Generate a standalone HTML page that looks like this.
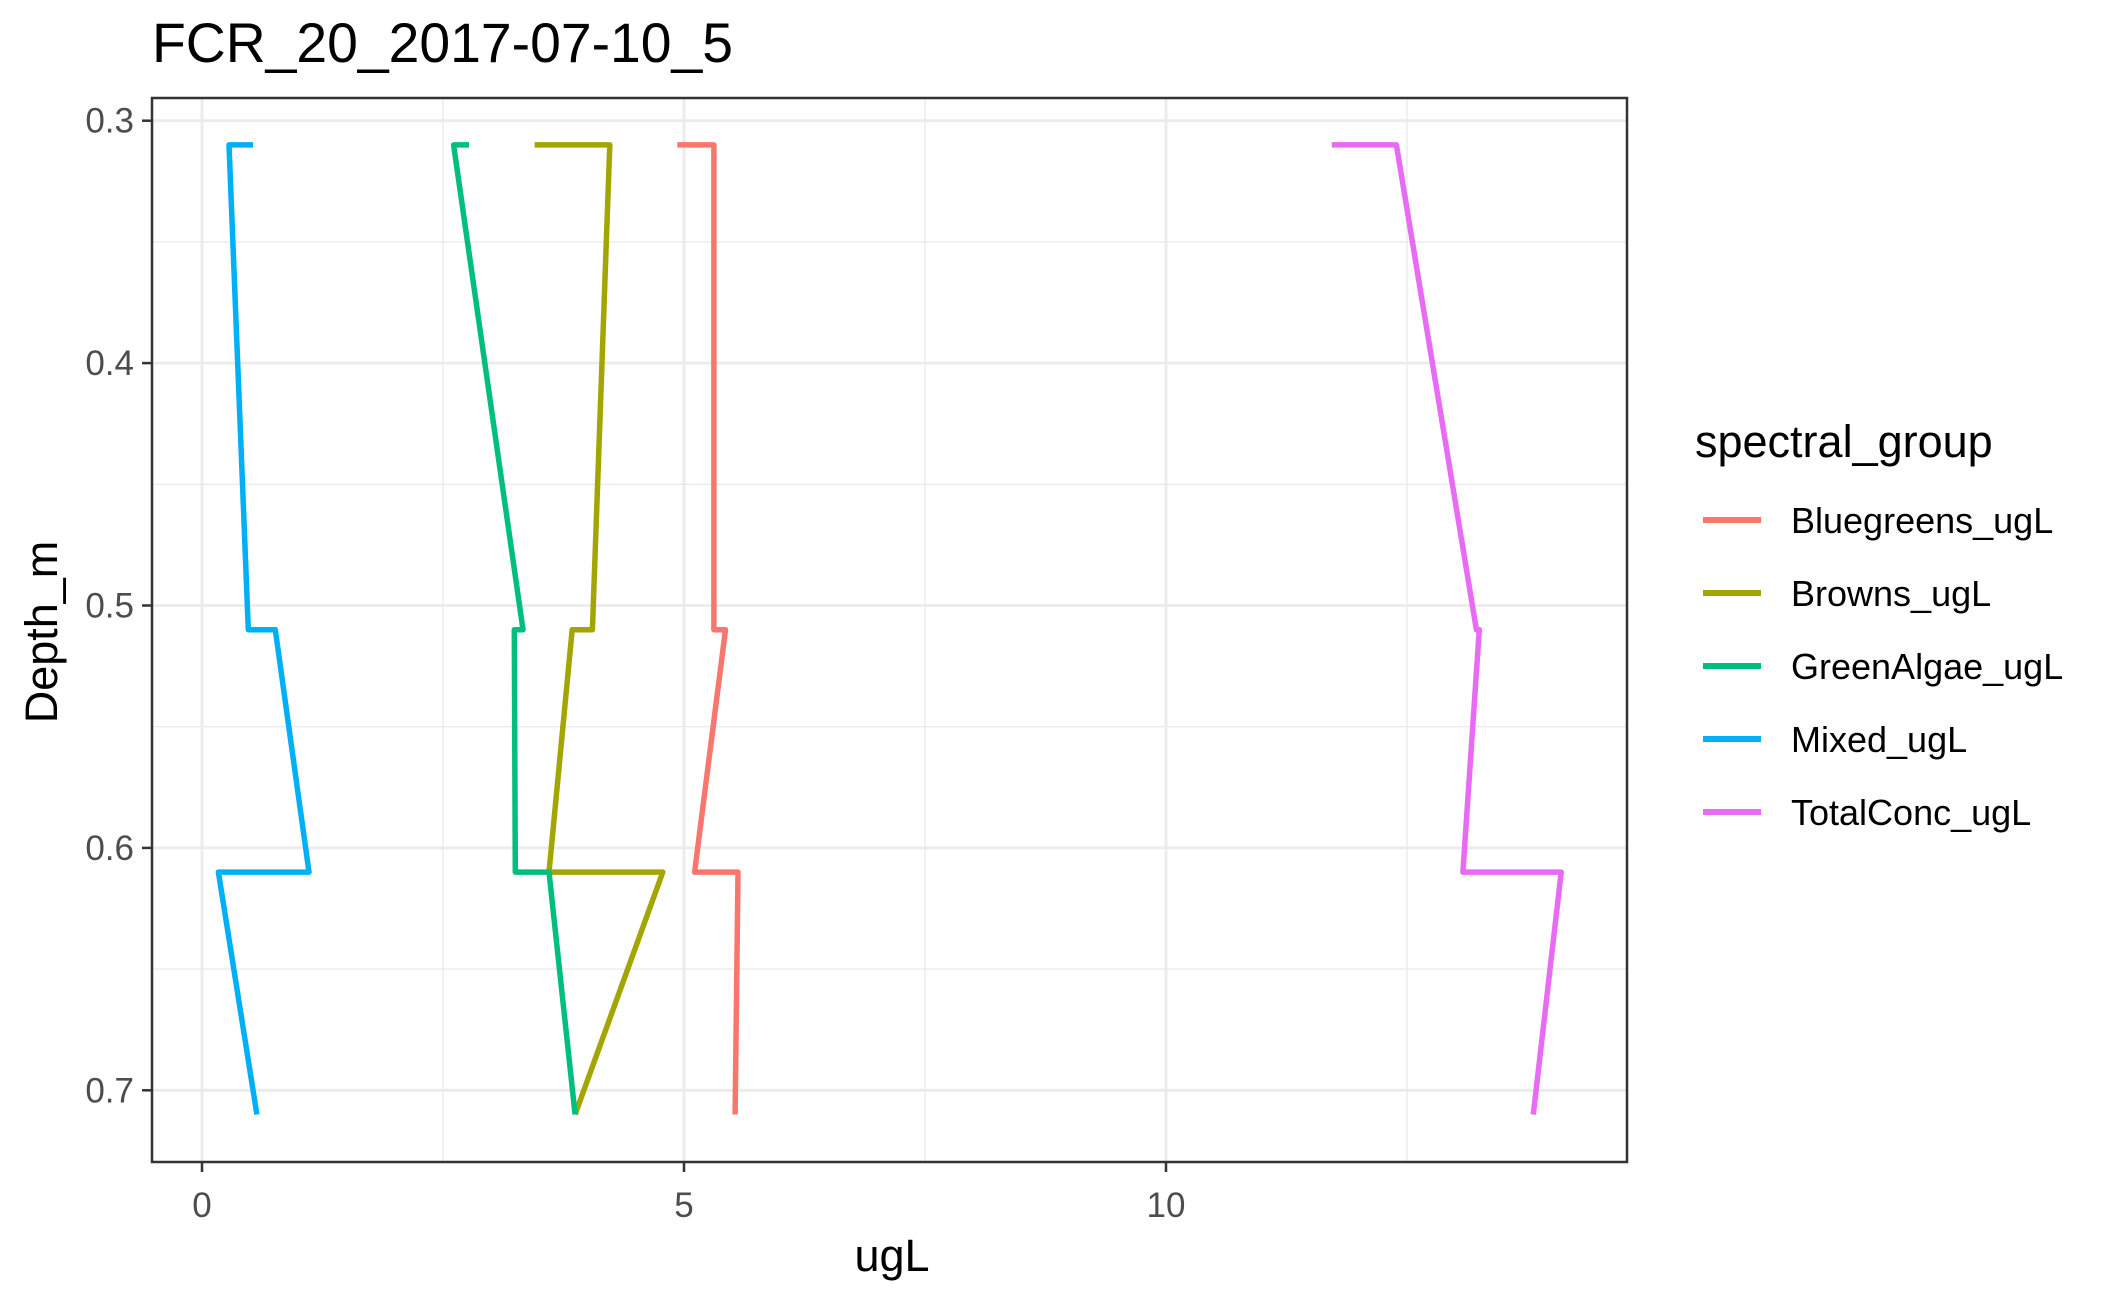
<!DOCTYPE html>
<html><head><meta charset="utf-8"><style>
html,body{margin:0;padding:0;background:#fff;}
svg{display:block;font-family:"Liberation Sans",Arial,sans-serif;}
</style></head><body>
<svg id="chart" width="2115" height="1300" viewBox="0 0 2115 1300">
<text x="152" y="62" font-size="55.3" fill="#000">FCR_20_2017-07-10_5</text>
<g id="grid"></g>
<g id="series"></g>
<rect x="152" y="98" width="1475" height="1064" fill="none" stroke="#333" stroke-width="2.5"/>
<g id="axes"></g>
<text x="892" y="1271" font-size="45" text-anchor="middle" fill="#000">ugL</text>
<text transform="translate(57,632) rotate(-90)" font-size="45" text-anchor="middle" fill="#000">Depth_m</text>
<text x="1695" y="457" font-size="45" fill="#000">spectral_group</text>
<g id="legend"></g>
</svg>
<script>
const seriesNames = ["Bluegreens_ugL","Browns_ugL","GreenAlgae_ugL","Mixed_ugL","TotalConc_ugL"];
const seriesColors = ["#F8766D","#A3A500","#00BF7D","#00B0F6","#E76BF3"];
const depths = [0.31,0.31,0.51,0.51,0.61,0.61,0.71];
const bluegreens = [4.93,5.31,5.31,5.43,5.11,5.56,5.53];
const browns = [3.45,4.23,4.05,3.84,3.60,4.78,3.87];
const greenAlgae = [2.77,2.61,3.33,3.24,3.25,3.60,3.87];
const mixed = [0.53,0.28,0.48,0.76,1.11,0.17,0.57];
const totalConc = [11.72,12.39,13.22,13.25,13.08,14.10,13.81];
const xTicks = [0,5,10];
const yTicks = [0.3,0.4,0.5,0.6,0.7];
const xMinor = [2.5,7.5,12.5];
const yMinor = [0.35,0.45,0.55,0.65];

const NS="http://www.w3.org/2000/svg";
const PL=152,PR=1627,PT=98,PB=1162;
function xs(v){return 202+v*96.4;}
function ys(d){return 120.7+(d-0.3)*2424;}
function mk(tag,attrs,parent){const e=document.createElementNS(NS,tag);for(const k in attrs)e.setAttribute(k,attrs[k]);parent.appendChild(e);return e;}
const grid=document.getElementById('grid');
mk('rect',{x:PL,y:PT,width:PR-PL,height:PB-PT,fill:'#fff'},grid);
xMinor.forEach(v=>{const l=mk('line',{x1:xs(v),x2:xs(v),y1:PT,y2:PB,stroke:'#EBEBEB','stroke-width':1.4},grid);

});
yMinor.forEach(v=>{const l=mk('line',{x1:PL,x2:PR,y1:ys(v),y2:ys(v),stroke:'#EBEBEB','stroke-width':1.4},grid);

});
xTicks.forEach(v=>{const l=mk('line',{x1:xs(v),x2:xs(v),y1:PT,y2:PB,stroke:'#EBEBEB','stroke-width':2.8},grid);

});
yTicks.forEach(v=>{const l=mk('line',{x1:PL,x2:PR,y1:ys(v),y2:ys(v),stroke:'#EBEBEB','stroke-width':2.8},grid);

});
const allVals=[bluegreens,browns,greenAlgae,mixed,totalConc];
const sg=document.getElementById('series');
allVals.forEach((vals,i)=>{
 const pts=vals.map((v,j)=>xs(v).toFixed(1)+','+ys(depths[j]).toFixed(1)).join(' ');
 const p=mk('polyline',{points:pts,fill:'none',stroke:seriesColors[i],'stroke-width':5.5,'stroke-linejoin':'round'},sg);
 
 
});
const ax=document.getElementById('axes');
xTicks.forEach(v=>{
 const t=mk('line',{x1:xs(v),x2:xs(v),y1:PB,y2:PB+10,stroke:'#333','stroke-width':2.5},ax);
 
 
 const tx=mk('text',{x:xs(v),y:1217,'font-size':35,'text-anchor':'middle',fill:'#4D4D4D'},ax);
 tx.textContent=String(v);
 
 
});
yTicks.forEach(v=>{
 const t=mk('line',{x1:PL-10,x2:PL,y1:ys(v),y2:ys(v),stroke:'#333','stroke-width':2.5},ax);
 
 
 const tx=mk('text',{x:134,y:ys(v)+12,'font-size':35,'text-anchor':'end',fill:'#4D4D4D'},ax);
 tx.textContent=v.toFixed(1);
 
 
});
const lg=document.getElementById('legend');
seriesNames.forEach((n,i)=>{
 const y=520+i*73;
 const k=mk('line',{x1:1703,x2:1761,y1:y,y2:y,stroke:seriesColors[i],'stroke-width':6},lg);
 
 
 const t=mk('text',{x:1791,y:y+13,'font-size':36,fill:'#000'},lg);
 t.textContent=n;
 
 
});
</script>
</body></html>
